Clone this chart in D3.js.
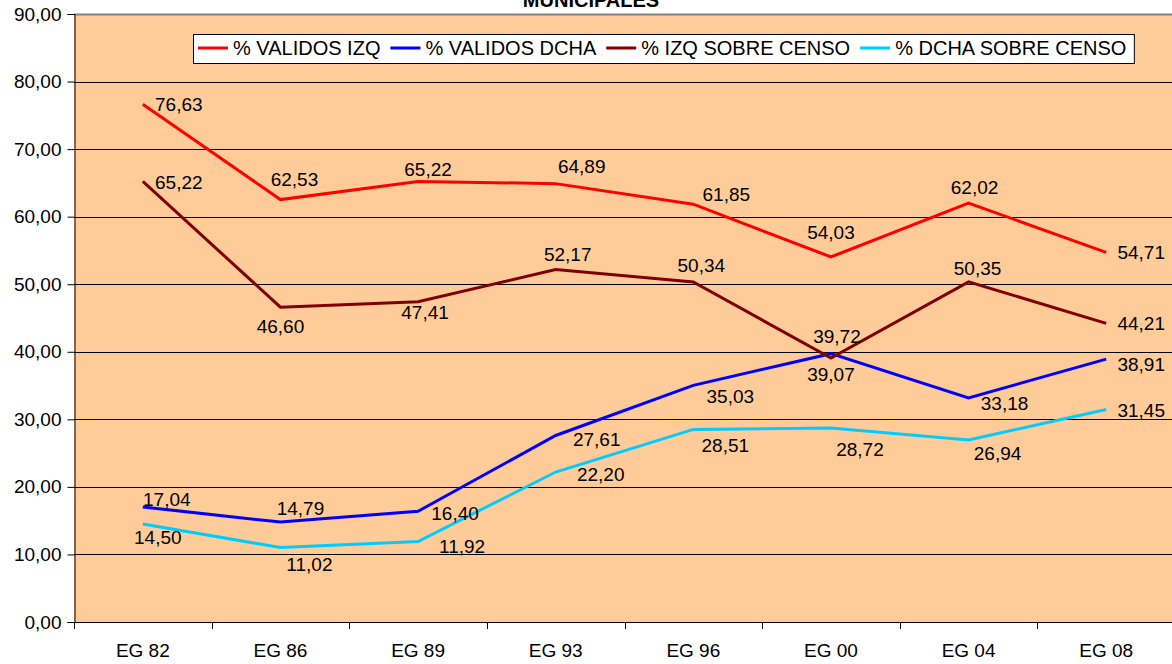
<!DOCTYPE html>
<html>
<head>
<meta charset="utf-8">
<script src="https://cdn.jsdelivr.net/npm/d3@7"></script>
<style>
  body { margin: 0; background: #fff; }
  svg { display: block; font-family: "Liberation Sans", Arial, sans-serif; }
</style>
</head>
<body>
<div id="chart"></div>
<script>
// categories and series
var categories = ["EG 82", "EG 86", "EG 89", "EG 93", "EG 96", "EG 00", "EG 04", "EG 08"];
var validosIzq = [76.63, 62.53, 65.22, 64.89, 61.85, 54.03, 62.02, 54.71];
var validosDcha = [17.04, 14.79, 16.40, 27.61, 35.03, 39.72, 33.18, 38.91];
var izqCenso = [65.22, 46.60, 47.41, 52.17, 50.34, 39.07, 50.35, 44.21];
var dchaCenso = [14.50, 11.02, 11.92, 22.20, 28.51, 28.72, 26.94, 31.45];
var yTicks = [0, 10, 20, 30, 40, 50, 60, 70, 80, 90];

// label nudges (px) as Excel placed them
var offIzq = [[36,0],[14,-20],[10,-12],[26,-17],[33,-10],[0,-25],[6,-16],[35,0]];
var offDcha = [[24,-8],[20,-14],[37,2],[41,4],[37,11],[6,-17],[36,5],[35,5]];
var offIzqC = [[36,1],[0,19],[7,11],[12,-15],[8,-17],[0,16],[9,-14],[35,0]];
var offDchaC = [[15,13],[29,17],[44,5],[45,2],[32,16],[29,21],[29,13],[35,1]];

var series = [
    {name: "% VALIDOS IZQ", values: validosIzq, color: "#ff0000", off: offIzq},
    {name: "% VALIDOS DCHA", values: validosDcha, color: "#0000ff", off: offDcha},
    {name: "% IZQ SOBRE CENSO", values: izqCenso, color: "#800000", off: offIzqC},
    {name: "% DCHA SOBRE CENSO", values: dchaCenso, color: "#00ccff", off: offDchaC}
];

var width = 1172, height = 664;
var plotLeft = 74, plotTop = 14, plotBottom = 622, plotRight = 1175;

var fmt = function(v) { return d3.format(".2f")(v).replace(".", ","); };

var svg = d3.select("#chart").append("svg")
    .attr("width", width)
    .attr("height", height);

var x = d3.scaleBand().domain(categories).range([plotLeft, plotRight]);
var y = d3.scaleLinear().domain([0, 90]).range([plotBottom, plotTop]);

// plot background
svg.append("rect")
    .attr("x", plotLeft).attr("y", plotTop)
    .attr("width", plotRight - plotLeft).attr("height", plotBottom - plotTop)
    .attr("fill", "#ffcc99");

// gridlines
svg.selectAll(".grid")
    .data(yTicks.filter(function(d) { return d > 0 && d < 90; }))
    .enter().append("line")
    .attr("x1", plotLeft).attr("x2", plotRight)
    .attr("y1", function(d) { return Math.round(y(d)) + 0.5; })
    .attr("y2", function(d) { return Math.round(y(d)) + 0.5; })
    .attr("stroke", "#000").attr("stroke-width", 1);

// top border
svg.append("line")
    .attr("x1", plotLeft).attr("x2", plotRight)
    .attr("y1", plotTop + 0.5).attr("y2", plotTop + 0.5)
    .attr("stroke", "#808080").attr("stroke-width", 2);

// y axis
var yAxis = d3.axisLeft(y).tickValues(yTicks).tickFormat(fmt).tickSize(7).tickPadding(6);
var gy = svg.append("g")
    .attr("transform", "translate(" + (plotLeft + 0.5) + ",0)")
    .call(yAxis);
gy.selectAll("text").attr("font-size", 19).attr("fill", "#000").attr("font-family", "Liberation Sans, Arial, sans-serif");
gy.selectAll("line, path").attr("stroke", "#000");

// x axis with ticks between categories
var xEdges = d3.range(categories.length + 1).map(function(i) { return plotLeft + i * x.bandwidth(); });
svg.append("line")
    .attr("x1", plotLeft).attr("x2", plotRight)
    .attr("y1", plotBottom + 0.5).attr("y2", plotBottom + 0.5)
    .attr("stroke", "#000");
svg.selectAll(".xtick")
    .data(xEdges)
    .enter().append("line")
    .attr("x1", function(d) { return Math.round(d) + 0.5; })
    .attr("x2", function(d) { return Math.round(d) + 0.5; })
    .attr("y1", plotBottom).attr("y2", plotBottom + 7)
    .attr("stroke", "#000");
svg.selectAll(".xlabel")
    .data(categories)
    .enter().append("text")
    .attr("x", function(d) { return x(d) + x.bandwidth() / 2; })
    .attr("y", 657)
    .attr("text-anchor", "middle")
    .attr("font-size", 19)
    .text(function(d) { return d; });

// lines
var line = d3.line()
    .x(function(d, i) { return x(categories[i]) + x.bandwidth() / 2; })
    .y(function(d) { return y(d); });

series.forEach(function(s) {
    svg.append("path")
        .datum(s.values)
        .attr("d", line)
        .attr("fill", "none")
        .attr("stroke", s.color)
        .attr("stroke-width", 3)
        .attr("stroke-linejoin", "miter");
});

// data labels
series.forEach(function(s) {
    svg.selectAll(null)
        .data(s.values)
        .enter().append("text")
        .attr("x", function(d, i) { return x(categories[i]) + x.bandwidth() / 2 + s.off[i][0]; })
        .attr("y", function(d, i) { return y(d) + s.off[i][1]; })
        .attr("dy", "0.35em")
        .attr("text-anchor", "middle")
        .attr("font-size", 19)
        .text(fmt);
});

// title, mostly cut off at top
svg.append("text")
    .attr("x", 591).attr("y", 7)
    .attr("text-anchor", "middle")
    .attr("font-size", 20)
    .attr("font-weight", "bold")
    .text("MUNICIPALES");

// legend
var legend = svg.append("g");
var lx = 198, ly = 48;
var legendBox = legend.append("rect")
    .attr("x", 193.5).attr("y", 34.5)
    .attr("height", 29)
    .attr("fill", "#fff").attr("stroke", "#000");
series.forEach(function(s) {
    legend.append("line")
        .attr("x1", lx).attr("x2", lx + 30)
        .attr("y1", ly).attr("y2", ly)
        .attr("stroke", s.color).attr("stroke-width", 3);
    var t = legend.append("text")
        .attr("x", lx + 35).attr("y", ly)
        .attr("dy", "0.35em")
        .attr("font-size", 20)
        .text(s.name);
    lx = lx + 35 + t.node().getComputedTextLength() + 10;
});
legendBox.attr("width", lx - 193.5 - 2);
</script>
</body>
</html>
